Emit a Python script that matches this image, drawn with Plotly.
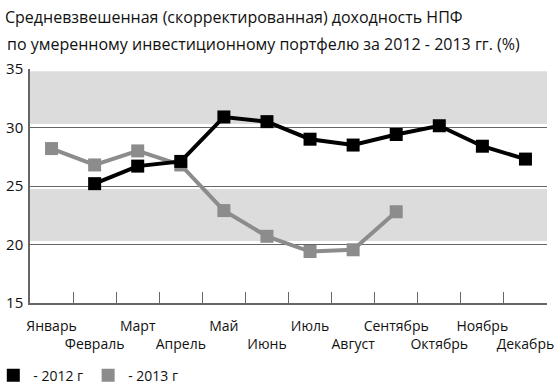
import plotly.graph_objects as go

months = ["Январь", "Февраль", "Март", "Апрель", "Май", "Июнь", "Июль",
          "Август", "Сентябрь", "Октябрь", "Ноябрь", "Декабрь"]
y2012 = [None, 25.2, 26.7, 27.1, 30.9, 30.5, 29.0, 28.5, 29.4, 30.15, 28.4, 27.3]
y2013 = [28.2, 26.8, 28.0, 26.8, 22.9, 20.7, 19.4, 19.55, 22.8, None, None, None]
yticks = [15, 20, 25, 30, 35]
title_lines = ["Средневзвешенная (скорректированная) доходность НПФ",
               "по умеренному инвестиционному портфелю за 2012 - 2013 гг. (%)"]
legend_names = ["- 2012 г", "- 2013 г"]

BLACK = "#000000"
GRAY = "#8c8c8c"
FONT = "Open Sans"
TXT = "#111111"

fig = go.Figure()
fig.add_trace(go.Scatter(x=months, y=y2013, mode="lines+markers",
                         line=dict(color=GRAY, width=4),
                         marker=dict(symbol="square", size=13, color=GRAY),
                         showlegend=False, connectgaps=False))
fig.add_trace(go.Scatter(x=months, y=y2012, mode="lines+markers",
                         line=dict(color=BLACK, width=4),
                         marker=dict(symbol="square", size=13, color=BLACK),
                         showlegend=False, connectgaps=False))
# legend entries (square markers only)
for name, col in zip(legend_names, [BLACK, GRAY]):
    fig.add_trace(go.Scatter(x=[None], y=[None], mode="markers", name=name,
                             marker=dict(symbol="square", size=13, color=col)))

for y0, y1 in [(30.3, 34.8), (20.3, 24.75)]:
    fig.add_shape(type="rect", xref="paper", yref="y", x0=0, x1=1, y0=y0, y1=y1,
                  fillcolor="#dcdcdc", line=dict(width=0), layer="below")

ticktext = [m if i % 2 == 0 else "<br>" + m for i, m in enumerate(months)]

fig.add_annotation(text=title_lines[1], xref="paper", yref="paper",
                   x=-25 / 517, y=1 + 25 / 234, xanchor="left", yanchor="middle",
                   showarrow=False, font=dict(size=16, color=TXT))

fig.update_layout(
    width=560, height=389,
    margin=dict(l=30, r=13, t=69, b=86, autoexpand=False),
    paper_bgcolor="white", plot_bgcolor="white",
    font=dict(family=FONT, size=13, color=TXT),
    title=dict(text=title_lines[0], x=5 / 560, xanchor="left",
               xref="container", yref="container", y=1 - 17 / 389, yanchor="middle",
               font=dict(size=16, color=TXT)),
    xaxis=dict(type="category", range=[-0.5, 11.5], tickmode="array",
               tickvals=months, ticktext=ticktext, tickson="boundaries",
               ticks="inside", ticklen=11, tickcolor="#666666", tickwidth=1.2,
               tickangle=0, automargin=False, ticklabelstandoff=9,
               showline=True, linecolor="#666666", linewidth=1.5, showgrid=False,
               tickfont=dict(size=14), zeroline=False),
    yaxis=dict(range=[15, 35], tickvals=yticks, showgrid=True, gridcolor="#666666",
               gridwidth=1, showline=True, linecolor="#666666", linewidth=1.5,
               ticks="", tickfont=dict(size=15), zeroline=False, automargin=False,
               ticklabelstandoff=2),
    legend=dict(orientation="h", x=-0.071, y=-0.31, xanchor="left", yanchor="middle",
                font=dict(size=14), tracegroupgap=0),
)

fig.write_html("out.html", post_script="document.body.style.margin='0';",
               config={"displayModeBar": False})
